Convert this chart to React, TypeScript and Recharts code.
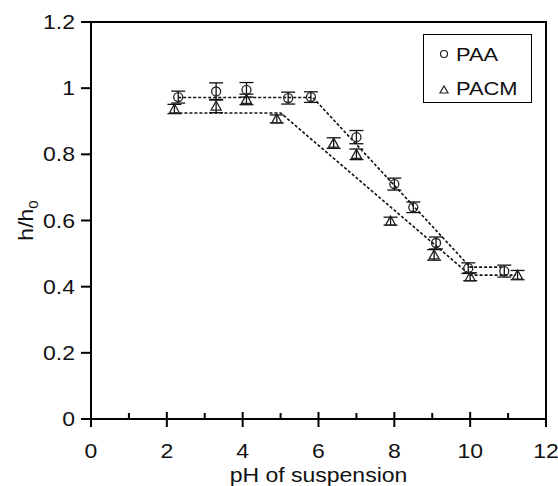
import {
  ComposedChart,
  Scatter,
  XAxis,
  YAxis,
  ErrorBar,
  ReferenceArea,
  Legend,
  Label,
} from "recharts";

const paaPH = [2.3, 3.3, 4.1, 5.2, 5.8, 7.0, 8.0, 8.5, 9.1, 9.95, 10.9];
const paaH = [0.973, 0.99, 0.995, 0.97, 0.973, 0.852, 0.71, 0.64, 0.532, 0.456, 0.447];
const paaErr = [0.018, 0.026, 0.022, 0.018, 0.016, 0.02, 0.018, 0.016, 0.018, 0.016, 0.018];

const pacmPH = [2.2, 3.3, 4.1, 4.9, 6.4, 7.0, 7.9, 9.05, 10.0, 11.25];
const pacmH = [0.937, 0.946, 0.966, 0.907, 0.834, 0.8, 0.598, 0.496, 0.43, 0.435];
const pacmErr = [0.014, 0.02, 0.016, 0.012, 0.016, 0.016, 0.012, 0.016, 0.012, 0.014];

// dashed trend lines
const paaFitPH = [2.3, 5.85, 10.0, 10.9];
const paaFitH = [0.972, 0.972, 0.459, 0.459];
const pacmFitPH = [2.2, 5.0, 10.0, 11.2];
const pacmFitH = [0.925, 0.925, 0.435, 0.435];

const xTicks = [0, 1, 2, 3, 4, 5, 6, 7, 8, 9, 10, 11, 12];
const yTicks = [0, 0.2, 0.4, 0.6, 0.8, 1, 1.2];

const FONT = '"Liberation Sans", Arial, sans-serif';
const FS = 20;
const STRETCH = 1.15; // the original lettering is a bit wider than Arial

const paaData = paaPH.map((x, i) => ({ x, y: paaH[i], err: paaErr[i] }));
const pacmData = pacmPH.map((x, i) => ({ x, y: pacmH[i], err: pacmErr[i] }));
const paaFit = paaFitPH.map((x, i) => ({ x, y: paaFitH[i] }));
const pacmFit = pacmFitPH.map((x, i) => ({ x, y: pacmFitH[i] }));

const WideText = ({ x, y, anchor, size = FS, rotate = 0, children }: any) => (
  <text
    transform={`translate(${x},${y}) rotate(${rotate}) scale(${STRETCH},1)`}
    textAnchor={anchor}
    fontSize={size}
    fontFamily={FONT}
    fill="#111"
  >
    {children}
  </text>
);

const CircleMark = (props: any) => (
  <circle cx={props.cx} cy={props.cy} r={4.5} fill="none" stroke="#222" strokeWidth={1.3} />
);

const TriangleMark = (props: any) => {
  const { cx, cy } = props;
  return (
    <polygon
      points={`${cx},${cy - 5} ${cx - 5},${cy + 4} ${cx + 5},${cy + 4}`}
      fill="none"
      stroke="#222"
      strokeWidth={1.3}
    />
  );
};

const NoMark = () => <g />;

const XTick = (props: any) => {
  const { x, y, payload } = props;
  const major = payload.value % 2 === 0;
  return (
    <g>
      {major ? (
        <line x1={x} x2={x} y1={y - 7} y2={y + 8} stroke="#000" strokeWidth={2} />
      ) : (
        <line x1={x} x2={x} y1={y - 6} y2={y} stroke="#000" strokeWidth={2} />
      )}
      {major && (
        <WideText x={x} y={y + 39} anchor="middle">
          {payload.value}
        </WideText>
      )}
    </g>
  );
};

const YTick = (props: any) => {
  const { x, y, payload } = props;
  return (
    <WideText x={x} y={y + 7} anchor="end">
      {payload.value}
    </WideText>
  );
};

const YLabel = (props: any) => {
  const { viewBox } = props;
  const cy = viewBox.y + viewBox.height / 2;
  return (
    <WideText x={33} y={cy} anchor="middle" rotate={-90}>
      h/h
      <tspan fontSize={13} dy={5}>
        0
      </tspan>
    </WideText>
  );
};

const XLabel = (props: any) => {
  const { viewBox } = props;
  return (
    <WideText x={viewBox.x + viewBox.width / 2} y={482} anchor="middle">
      pH of suspension
    </WideText>
  );
};

const LegendBox = () => (
  <div
    style={{
      width: 107,
      height: 67,
      border: "1.3px solid #000",
      background: "#fff",
      fontFamily: FONT,
      fontSize: 19,
      color: "#111",
      position: "relative",
    }}
  >
    <svg width={20} height={70} style={{ position: "absolute", left: 10, top: 0 }}>
      <circle cx={10} cy={19} r={3.5} fill="none" stroke="#222" strokeWidth={1.2} />
      <polygon points="10,51 6,58 14,58" fill="none" stroke="#222" strokeWidth={1.2} />
    </svg>
    <div
      style={{
        position: "absolute",
        left: 32,
        top: 8,
        lineHeight: "24px",
        transform: `scaleX(${STRETCH})`,
        transformOrigin: "left",
      }}
    >
      PAA
    </div>
    <div
      style={{
        position: "absolute",
        left: 32,
        top: 42,
        lineHeight: "24px",
        transform: `scaleX(${STRETCH})`,
        transformOrigin: "left",
      }}
    >
      PACM
    </div>
  </div>
);

export default function App() {
  return (
    <div style={{ position: "absolute", left: 0, top: 0, background: "#fff" }}>
      <ComposedChart
        width={558}
        height={486}
        margin={{ top: 22, right: 12, bottom: 27, left: 31 }}
      >
        <XAxis
          type="number"
          dataKey="x"
          domain={[0, 12]}
          ticks={xTicks}
          interval={0}
          height={40}
          tickSize={0}
          tickMargin={0}
          tickLine={false}
          axisLine={{ stroke: "#000", strokeWidth: 2 }}
          tick={<XTick />}
          allowDataOverflow
        >
          <Label content={<XLabel />} />
        </XAxis>
        <YAxis
          type="number"
          dataKey="y"
          domain={[0, 1.2]}
          ticks={yTicks}
          interval={0}
          width={60}
          tickSize={10}
          tickMargin={6}
          tickLine={{ stroke: "#000", strokeWidth: 2 }}
          axisLine={{ stroke: "#000", strokeWidth: 2 }}
          tick={<YTick />}
          allowDataOverflow
        >
          <Label content={<YLabel />} />
        </YAxis>
        <ReferenceArea
          x1={0}
          x2={12}
          y1={0}
          y2={1.2}
          fill="none"
          stroke="#000"
          strokeWidth={2}
        />
        <Legend
          layout="vertical"
          align="center"
          verticalAlign="middle"
          content={<LegendBox />}
          wrapperStyle={{ left: 423, top: 34, width: 110, height: 69 }}
        />
        <Scatter
          data={paaFit}
          line={{ stroke: "#111", strokeWidth: 1.6, strokeDasharray: "3 2" }}
          shape={<NoMark />}
          isAnimationActive={false}
          legendType="none"
        />
        <Scatter
          data={pacmFit}
          line={{ stroke: "#111", strokeWidth: 1.6, strokeDasharray: "3 2" }}
          shape={<NoMark />}
          isAnimationActive={false}
          legendType="none"
        />
        <Scatter name="PAA" data={paaData} shape={<CircleMark />} isAnimationActive={false}>
          <ErrorBar dataKey="err" direction="y" width={7} stroke="#111" strokeWidth={1.3} />
        </Scatter>
        <Scatter name="PACM" data={pacmData} shape={<TriangleMark />} isAnimationActive={false}>
          <ErrorBar dataKey="err" direction="y" width={7} stroke="#111" strokeWidth={1.3} />
        </Scatter>
      </ComposedChart>
    </div>
  );
}
